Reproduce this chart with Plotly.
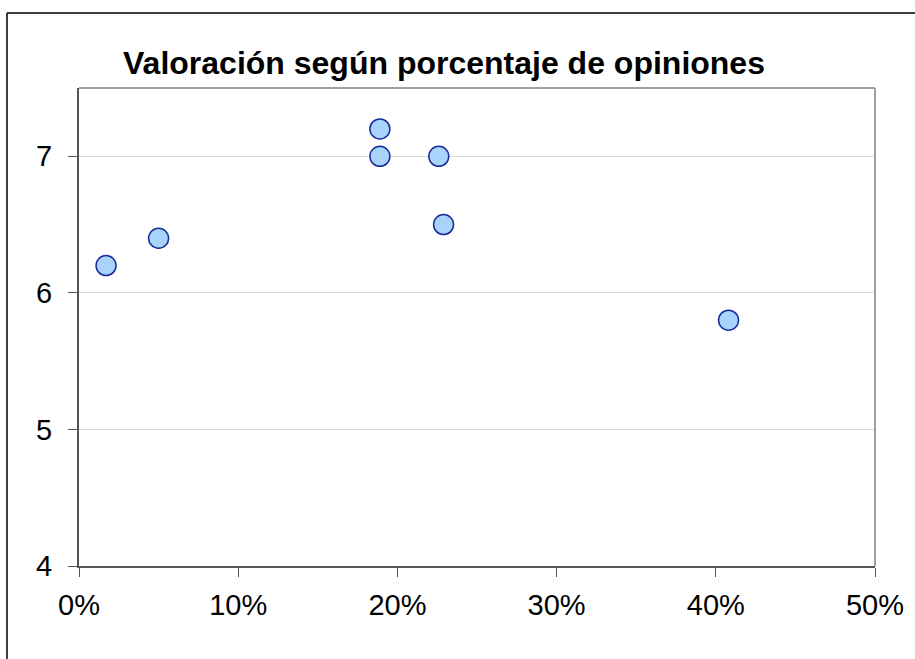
import plotly.graph_objects as go

# Data
pct_opiniones = [0.017, 0.050, 0.189, 0.189, 0.226, 0.229, 0.408]
valoracion = [6.2, 6.4, 7.2, 7.0, 7.0, 6.5, 5.8]
x_ticks = [0, 0.1, 0.2, 0.3, 0.4, 0.5]
y_ticks = [4, 5, 6, 7]
title_text = "Valoración según porcentaje de opiniones"

W, H = 915, 659
L, R, T, B = 79, 40, 88, 93
pw, ph = W - L - R, H - T - B

def px_x(p):
    return (p - L) / pw

def px_y(p):
    return (H - B - p) / ph

fig = go.Figure()
fig.add_trace(go.Scatter(
    x=pct_opiniones, y=valoracion, mode="markers",
    marker=dict(size=20, color="#a8d4fb", line=dict(color="#1a2c9c", width=1.5)),
    cliponaxis=False, showlegend=False,
))

font = "Liberation Sans, Arial, sans-serif"
fig.update_layout(
    width=W, height=H,
    margin=dict(l=L, r=R, t=T, b=B),
    paper_bgcolor="white", plot_bgcolor="white",
    font=dict(family=font, size=29, color="black"),
    title=dict(text="<b>" + title_text + "</b>", x=444 / W, y=1 - 63 / H,
               xref="container", yref="container",
               xanchor="center", yanchor="middle",
               font=dict(family=font, size=32, color="black")),
    xaxis=dict(range=[0, 0.5], tickvals=x_ticks, tickformat=".0%",
               showgrid=False, zeroline=False,
               showline=True, linecolor="#555555", linewidth=2,
               ticks="outside", ticklen=9, tickwidth=1, tickcolor="#555555",
               ticklabelstandoff=3),
    yaxis=dict(range=[4, 7.5], tickvals=y_ticks,
               showgrid=True, gridcolor="#d9d9d9", gridwidth=1, zeroline=False,
               showline=True, linecolor="#555555", linewidth=2,
               ticks="outside", ticklen=9, tickwidth=1, tickcolor="#555555",
               ticklabelstandoff=10),
    shapes=[
        dict(type="line", xref="paper", yref="paper", x0=0, x1=1, y0=1, y1=1,
             line=dict(color="#a0a0a0", width=2), layer="above"),
        dict(type="line", xref="paper", yref="paper", x0=1, x1=1, y0=0, y1=1,
             line=dict(color="#a0a0a0", width=2), layer="above"),
        dict(type="line", xref="paper", yref="paper", x0=px_x(7), x1=px_x(W + 5),
             y0=px_y(13), y1=px_y(13), line=dict(color="black", width=1.5)),
        dict(type="line", xref="paper", yref="paper", x0=px_x(7), x1=px_x(7),
             y0=px_y(13), y1=px_y(H + 5), line=dict(color="black", width=1.5)),
    ],
)

fig.write_html("out.html", config={"displayModeBar": False},
               post_script="document.body.style.margin='0';")
